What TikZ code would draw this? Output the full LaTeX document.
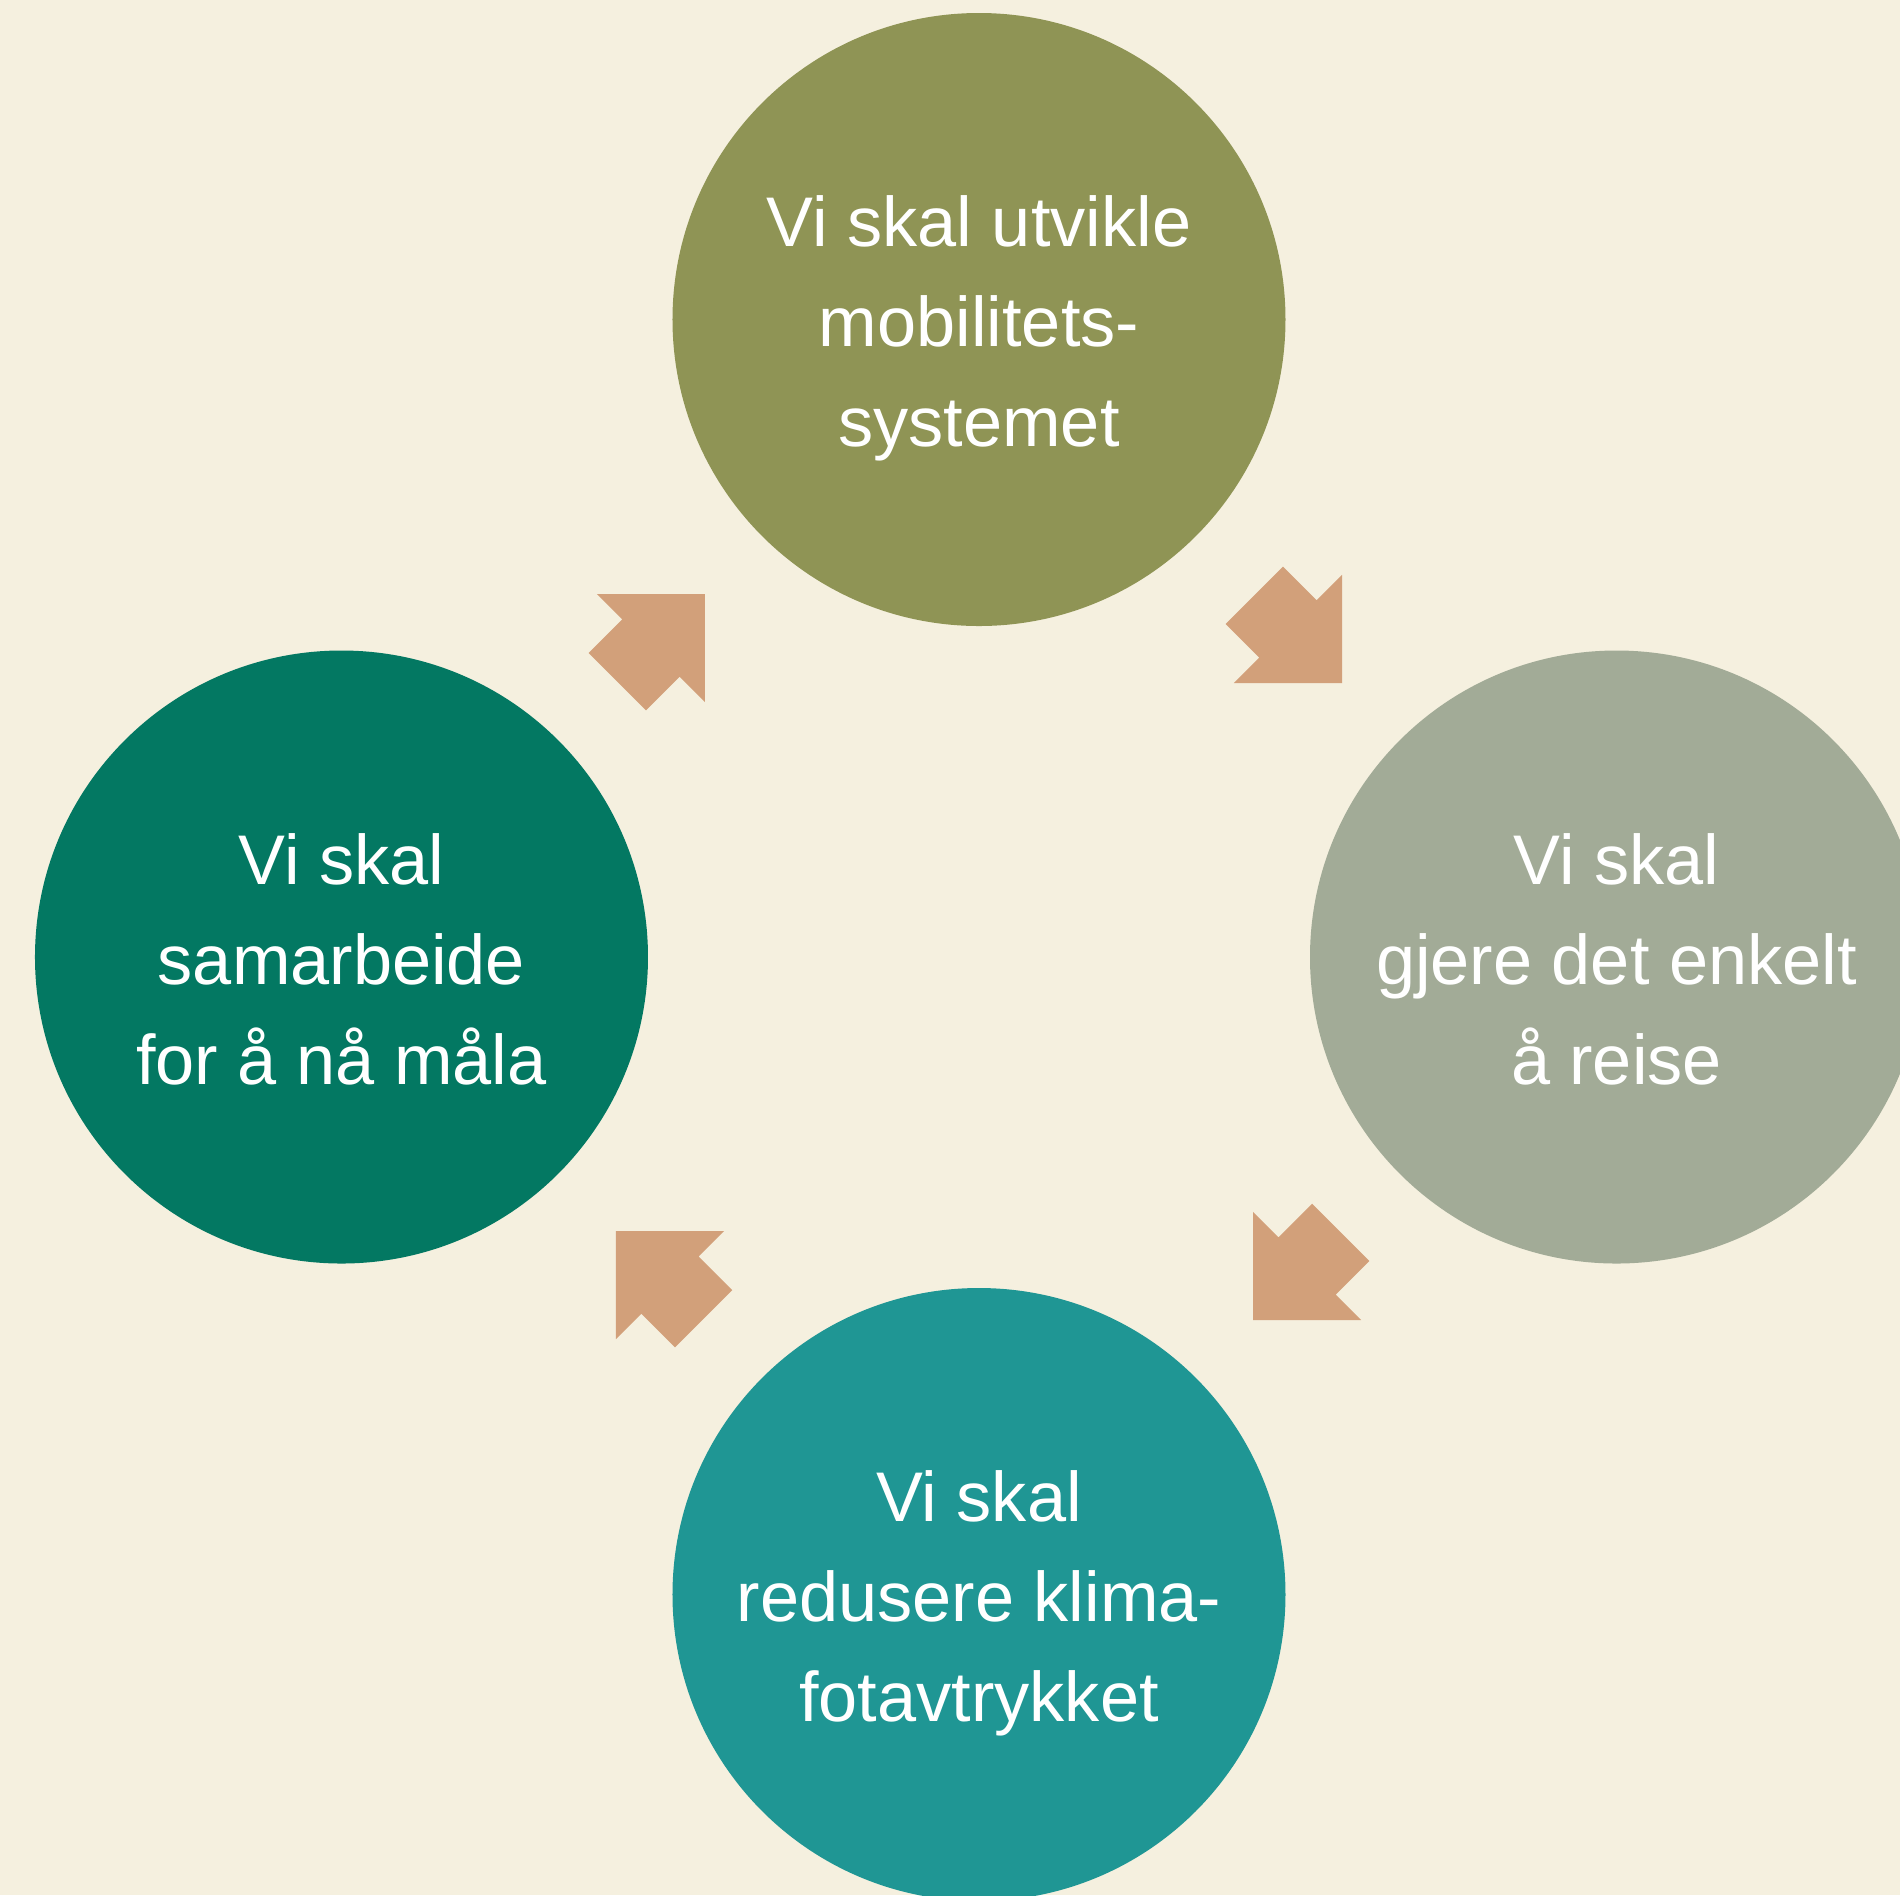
\documentclass[tikz,border=0pt]{standalone}
\usepackage{fontspec}
\setmainfont{Liberation Sans}
\usepackage{xcolor}
\usepackage{tikz}
\usetikzlibrary{positioning}

\definecolor{bakgrunn}{HTML}{F5F0DF}
\definecolor{oliven}{HTML}{8F9455}
\definecolor{salvie}{HTML}{A2AB97}
\definecolor{turkis}{HTML}{1F9694}
\definecolor{mørkgrønn}{HTML}{037862}
\definecolor{pilfarge}{HTML}{D2A07A}

\begin{document}
\begin{tikzpicture}[
	mal/.style={circle,minimum size=6.13cm,inner sep=0pt,text=white,align=center,
		font=\fontsize{20}{28.45}\selectfont,text height=76.9pt,text depth=4.6pt},
	pil/.style={fill=pilfarge}]
		\useasboundingbox (-9.79,-9.38) rectangle (9.21,9.57);
		\fill[bakgrunn] (-9.79,-9.38) rectangle (9.21,9.57);
		\begin{scope}
		\clip (-9.79,-9.38) rectangle (9.21,9.57);
		% de fire sirklane
		\node[mal,fill=oliven] (utvikle) at (0,6.375) {Vi skal utvikle\\mobilitets-\\systemet};
		\node[mal,fill=salvie] (reise) at (6.375,0) {Vi skal\\gjere det enkelt\\å reise};
		\node[mal,fill=turkis] (klima) at (0,-6.375) {Vi skal\\redusere klima-\\fotavtrykket};
		\node[mal,fill=mørkgrønn] (samarbeid) at (-6.375,0) {Vi skal\\samarbeide\\for å nå måla};
		\end{scope}
		% pilene mellom sirklane
		\foreach \x/\y/\a in {-2.74/3.63/45, 3.63/2.74/-45, 2.74/-3.63/-135, -3.63/-2.74/135}
			\fill[pil,shift={(\x,\y)},rotate=\a] (0,0) -- (-0.764,0.764) -- (-0.764,0.405)
				-- (-1.24,0.405) -- (-1.24,-0.405) -- (-0.764,-0.405) -- (-0.764,-0.764) -- cycle;
	\end{tikzpicture}
\end{document}
